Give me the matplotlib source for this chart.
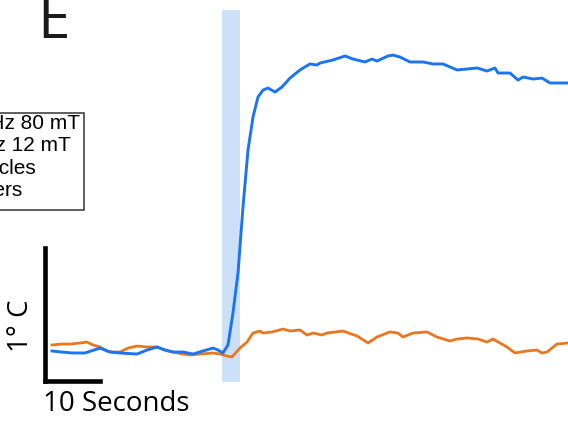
import matplotlib.pyplot as plt
from matplotlib.patches import Rectangle

# ======================
# DATA (seconds, deg C relative to scale-bar origin)
# ======================
blue_t = [1.27, 3.09, 4.91, 7.27, 10.0, 11.82, 13.64, 16.73, 18.55, 20.36, 21.82,
          23.27, 25.09, 26.91, 28.73, 30.55, 31.45, 32.36, 33.27, 34.18, 35.09,
          36.0, 36.91, 37.82, 38.73, 39.64, 40.55, 41.82, 43.09, 44.55, 46.36,
          48.18, 49.45, 50.0, 52.36, 54.55, 56.0, 58.18, 59.45, 60.36, 62.36,
          63.27, 64.55, 66.36, 68.73, 70.55, 72.36, 74.91, 76.73, 78.55, 80.36,
          81.82, 82.36, 84.55, 86.0, 86.91, 88.73, 90.36, 91.82, 93.64, 95.09]
blue_T = [0.222, 0.214, 0.207, 0.207, 0.244, 0.214, 0.207, 0.199, 0.229, 0.252, 0.229,
          0.214, 0.214, 0.199, 0.222, 0.244, 0.229, 0.207, 0.267, 0.508, 0.808,
          1.305, 1.733, 1.981, 2.132, 2.184, 2.199, 2.169, 2.207, 2.274, 2.335,
          2.380, 2.372, 2.387, 2.410, 2.440, 2.417, 2.395, 2.417, 2.402, 2.440,
          2.447, 2.432, 2.395, 2.395, 2.380, 2.380, 2.335, 2.342, 2.350, 2.327,
          2.350, 2.312, 2.312, 2.259, 2.282, 2.267, 2.274, 2.237, 2.237, 2.237]

orange_t = [1.27, 3.09, 4.55, 6.36, 7.64, 8.73, 10.0, 11.27, 12.36, 13.64, 15.09,
            16.73, 18.55, 20.36, 21.82, 23.27, 25.09, 26.36, 28.18, 30.55, 31.82,
            33.09, 34.0, 35.45, 36.73, 37.82, 39.09, 39.64, 41.27, 43.27, 44.55,
            46.36, 47.64, 48.73, 50.36, 51.27, 54.18, 56.73, 58.73, 60.36, 62.73,
            64.18, 65.09, 66.91, 69.45, 71.27, 73.64, 74.91, 76.73, 78.73, 80.36,
            81.45, 84.0, 85.45, 87.64, 89.45, 90.36, 91.27, 93.09, 95.09]
orange_T = [0.267, 0.274, 0.274, 0.282, 0.289, 0.267, 0.252, 0.222, 0.214, 0.214, 0.244,
            0.259, 0.252, 0.252, 0.229, 0.214, 0.199, 0.192, 0.199, 0.207, 0.199,
            0.184, 0.177, 0.244, 0.289, 0.357, 0.372, 0.357, 0.365, 0.387, 0.372,
            0.380, 0.342, 0.357, 0.342, 0.357, 0.372, 0.335, 0.282, 0.327, 0.365,
            0.357, 0.327, 0.357, 0.365, 0.327, 0.297, 0.312, 0.320, 0.312, 0.289,
            0.312, 0.252, 0.207, 0.222, 0.229, 0.207, 0.214, 0.274, 0.282]

stim_window = [32.2, 35.45]     # field on (s)
scale_sec = 10
scale_deg = 1

legend_labels = ["100 kHz 80 mT", "500 kHz 12 mT", "Nanoparticles", "Nanoflowers"]

BLUE = "#1b74f3"
ORANGE = "#e8771f"
SHADE = "#cde0fa"

# ======================
# FIGURE
# ======================
W, H = 568, 422
fig = plt.figure(figsize=(W / 100, H / 100), dpi=100)
ax = fig.add_axes([0, 0, 1, 1])
ax.set_xlim(-8.18, 95.09)
ax.set_ylim(-0.312, 2.861)
ax.axis("off")

ax.axvspan(stim_window[0], stim_window[1], ymin=(422 - 381.7) / 422,
           ymax=(422 - 10) / 422, color=SHADE, lw=0, zorder=0)

ax.plot(orange_t, orange_T, color=ORANGE, lw=2.0, zorder=2)
ax.plot(blue_t, blue_T, color=BLUE, lw=2.1, zorder=3)

# scale bars
ax.plot([0, 0], [0, scale_deg], color="black", lw=3.3, solid_capstyle="projecting")
ax.plot([0, scale_sec], [0, 0], color="black", lw=3.3, solid_capstyle="projecting")

fig.text(43 / W, 1 - 411 / H, f"{scale_sec} Seconds", fontsize=20,
         family="Open Sans", ha="left", va="baseline")
fig.text(21 / W, 1 - 326 / H, f"{scale_deg}\u00b0 C", fontsize=20,
         family="Open Sans", rotation=90, ha="center", va="center")

# panel letter
fig.text(37.5 / W, 1 - 38 / H, "E", fontsize=42, family="Open Sans",
         ha="left", va="baseline", color="#1a1a1a")

# legend box (cut at the left edge, as in the source panel)
box = Rectangle((-60 / W, 1 - 210.5 / H), (83.5 + 60) / W, 97 / H,
                transform=fig.transFigure, fill=False, ec="#333333", lw=1.1)
fig.add_artist(box)
ends = [80, 71, 36, 23]
bases = [129, 151, 174, 196]
for lab, xe, yb in zip(legend_labels, ends, bases):
    fig.text(xe / W, 1 - yb / H, lab, fontsize=15, family="Liberation Sans",
             ha="right", va="baseline")

plt.savefig("out.png", dpi=100)
